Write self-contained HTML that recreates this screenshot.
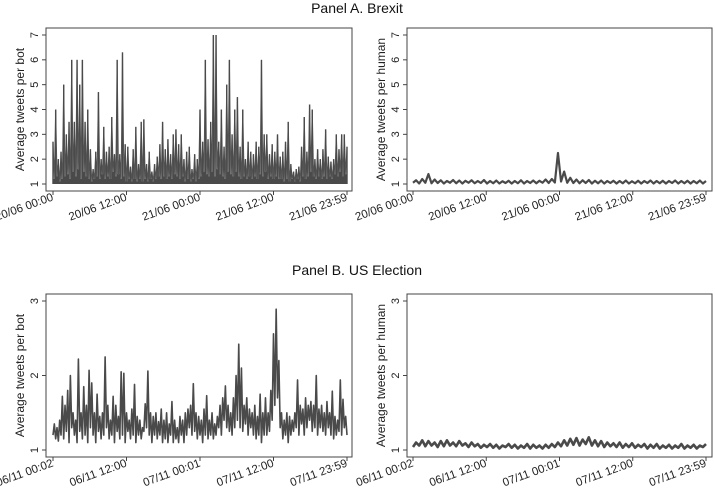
<!DOCTYPE html>
<html><head><meta charset="utf-8">
<style>
html,body{margin:0;padding:0;background:#fff;}
svg{display:block;font-family:"Liberation Sans",sans-serif;}
</style></head>
<body>
<svg id="chart" width="715" height="491" viewBox="0 0 715 491" xmlns="http://www.w3.org/2000/svg">
<text x="357" y="13" text-anchor="middle" font-size="14" fill="#111">Panel A. Brexit</text>
<text x="357" y="275" text-anchor="middle" font-size="14" fill="#111">Panel B. US Election</text>
</svg>
<script>
const brexitXTicks = ["20/06 00:00","20/06 12:00","21/06 00:00","21/06 12:00","21/06 23:59"];
const usXTicks = ["06/11 00:02","06/11 12:00","07/11 00:01","07/11 12:00","07/11 23:59"];
const brexitYTicks = [1,2,3,4,5,6,7];
const usYTicks = [1,2,3];
const brexitBot = [2.7,1.2,4.0,1.3,2.0,1.1,2.3,1.2,5.0,1.3,
3.0,1.4,3.5,1.2,6.0,1.5,3.5,1.3,6.0,1.6,
5.0,1.2,6.0,1.5,3.5,1.3,4.0,1.2,2.4,1.1,
1.6,1.2,2.3,1.3,4.7,1.2,2.0,1.4,3.3,1.2,
2.3,1.3,2.5,1.2,3.7,1.5,2.2,1.3,6.0,1.4,
2.2,1.2,6.3,1.3,2.6,1.1,2.5,1.2,1.7,1.1,
2.4,1.2,3.3,1.1,1.8,1.2,3.5,1.1,3.6,1.2,
1.8,1.1,2.3,1.2,1.5,1.1,1.8,1.2,2.1,1.3,
2.6,1.2,3.5,1.3,2.4,1.2,2.8,1.3,2.2,1.2,
3.0,1.4,3.2,1.3,2.6,1.2,3.0,1.3,2.0,1.1,
2.3,1.2,2.5,1.1,1.6,1.2,2.2,1.1,2.0,1.2,
4.0,1.3,2.7,1.5,6.0,1.4,2.8,1.3,3.5,1.5,
7.0,1.3,7.0,1.6,2.7,1.4,4.0,1.3,2.5,1.2,
5.0,1.5,6.0,1.4,3.0,1.3,4.0,1.5,4.5,1.3,
2.5,1.2,4.0,1.3,2.0,1.2,2.7,1.3,2.3,1.2,
2.2,1.3,2.7,1.2,2.5,1.4,6.0,1.3,3.0,1.5,
3.0,1.2,2.2,1.3,2.6,1.2,2.3,1.3,3.0,1.2,
2.1,1.2,2.3,1.1,2.7,1.2,3.5,1.1,1.8,1.2,
1.5,1.1,1.6,1.2,1.7,1.1,2.5,1.3,3.7,1.2,
2.3,1.3,4.2,1.5,4.0,1.3,2.0,1.2,2.4,1.3,
2.0,1.2,2.4,1.3,3.2,1.2,2.1,1.3,1.9,1.2,
2.0,1.4,3.0,1.3,2.4,1.5,3.0,1.3,3.0,1.4,2.5];
const brexitHuman = [1.05,1.15,1.02,1.2,1.05,1.4,1.03,1.18,1.04,1.15,1.02,1.12,1.05,1.16,1.03,1.14,1.02,1.13,1.05,1.15,
1.03,1.12,1.04,1.16,1.02,1.12,1.03,1.14,1.02,1.11,1.04,1.13,1.02,1.12,1.03,1.15,1.02,1.12,1.04,1.14,
1.03,1.13,1.05,1.18,1.04,1.2,1.06,2.25,1.1,1.5,1.05,1.25,1.04,1.18,1.03,1.15,1.04,1.16,1.02,1.13,
1.03,1.14,1.02,1.12,1.04,1.13,1.02,1.12,1.03,1.14,1.02,1.11,1.03,1.13,1.02,1.12,1.04,1.14,1.02,1.12,
1.03,1.13,1.02,1.12,1.04,1.14,1.02,1.12,1.03,1.13,1.02,1.12,1.03,1.14,1.02,1.12];
const usBot = [1.2,1.35,1.15,1.3,1.12,1.4,1.2,1.72,1.15,1.6,1.25,1.8,1.1,2.0,1.3,1.5,1.2,1.4,1.1,2.22,
1.25,1.5,1.15,1.85,1.2,1.6,1.1,2.07,1.3,1.9,1.2,1.5,1.1,1.75,1.25,1.45,1.15,1.5,1.2,2.25,
1.3,1.6,1.15,1.4,1.2,1.72,1.1,1.6,1.25,1.45,1.15,2.05,1.2,2.03,1.1,1.5,1.25,1.4,1.15,1.55,
1.2,1.88,1.1,1.45,1.2,1.4,1.15,1.3,1.25,1.62,1.3,2.06,1.2,1.5,1.1,1.45,1.2,1.5,1.15,1.38,
1.2,1.55,1.1,1.4,1.15,1.5,1.1,1.35,1.2,1.65,1.1,1.4,1.15,1.3,1.1,1.45,1.2,1.4,1.1,1.5,
1.2,1.55,1.3,1.6,1.2,1.89,1.25,1.5,1.15,1.45,1.2,1.4,1.1,1.55,1.2,1.73,1.15,1.4,1.2,1.5,
1.15,1.35,1.2,1.45,1.3,1.6,1.2,1.7,1.4,1.86,1.3,1.6,1.25,1.5,1.2,1.7,1.3,2.0,1.4,2.42,
1.3,2.1,1.25,1.6,1.35,1.7,1.2,1.55,1.3,1.5,1.2,1.6,1.15,1.45,1.2,1.75,1.1,1.5,1.2,1.7,
1.2,1.5,1.25,1.8,1.4,2.56,1.6,2.89,1.7,2.2,1.3,1.5,1.15,1.4,1.2,1.5,1.1,1.45,1.2,1.4,
1.25,1.5,1.3,1.94,1.2,1.6,1.35,1.55,1.2,1.7,1.3,1.6,1.4,1.65,1.25,1.6,1.3,2.0,1.2,1.55,
1.3,1.6,1.25,1.5,1.2,1.65,1.3,1.5,1.2,1.79,1.15,1.45,1.2,1.4,1.25,1.94,1.2,1.68,1.3,1.45,1.2];
const usHuman = [1.04,1.1,1.06,1.13,1.05,1.12,1.06,1.1,1.04,1.12,1.05,1.13,1.06,1.1,1.05,1.12,1.06,1.09,1.04,1.1,
1.05,1.08,1.03,1.07,1.04,1.08,1.03,1.07,1.02,1.06,1.04,1.08,1.03,1.07,1.02,1.06,1.03,1.08,1.02,1.07,
1.03,1.06,1.02,1.07,1.03,1.08,1.04,1.1,1.05,1.13,1.06,1.15,1.07,1.16,1.06,1.14,1.08,1.17,1.06,1.13,
1.05,1.12,1.04,1.1,1.05,1.09,1.04,1.1,1.03,1.08,1.04,1.09,1.03,1.07,1.04,1.08,1.02,1.07,1.03,1.08,
1.02,1.06,1.03,1.07,1.02,1.06,1.03,1.08,1.02,1.06,1.03,1.07,1.02,1.06,1.04,1.08];

const NS="http://www.w3.org/2000/svg";
const svg=document.getElementById('chart');
function mk(tag,attrs,parent){const e=document.createElementNS(NS,tag);for(const k in attrs)e.setAttribute(k,attrs[k]);(parent||svg).appendChild(e);return e;}

function panel(id,box,yMin,yMax,y0px,y1px,x0px,x1px,yTicks,xTicks,values,ylabel,mode,sw){
  const g=mk('g',{});
  
  
  const ys=v=>y0px+(v-yMin)/(yMax-yMin)*(y1px-y0px);
  const xs=i=>x0px+i/(values.length-1)*(x1px-x0px);
  const r=mk('rect',{x:box[0],y:box[1],width:box[2]-box[0],height:box[3]-box[1],fill:'#fff',stroke:'#444','stroke-width':1},g);
  
  
  let d='';
  if(mode==='spike'){
    values.forEach((v,i)=>{const x=xs(i).toFixed(2);d+='M'+x+' '+ys(1).toFixed(2)+'V'+ys(v).toFixed(2);});
    let d2='';values.forEach((v,i)=>{d2+=(i?'L':'M')+xs(i).toFixed(2)+' '+ys(v).toFixed(2);});
    const p2=mk('path',{d:d2,fill:'none',stroke:'#555','stroke-width':1},g);
    
    
  } else {
    values.forEach((v,i)=>{d+=(i?'L':'M')+xs(i).toFixed(2)+' '+ys(v).toFixed(2);});
  }
  const p=mk('path',{d:d,fill:'none',stroke:'#4a4a4a','stroke-width':sw,'stroke-linejoin':'round'},g);
  
  
  yTicks.forEach(t=>{
    const y=ys(t);
    mk('line',{x1:box[0]-4,x2:box[0],y1:y,y2:y,stroke:'#444'},g);
    const tx=mk('text',{x:0,y:0,'font-size':11,fill:'#222','text-anchor':'middle',transform:`translate(${box[0]-8},${y}) rotate(-90)`},g);
    tx.textContent=t;
    
    
  });
  xTicks.forEach((t,i)=>{
    const x=x0px+i/(xTicks.length-1)*(x1px-x0px);
    mk('line',{x1:x,x2:x,y1:box[3],y2:box[3]+4,stroke:'#444'},g);
    const tx=mk('text',{x:0,y:0,'font-size':11.5,fill:'#222','text-anchor':'end',transform:`translate(${x+1},${box[3]+9}) rotate(-20)`},g);
    tx.textContent=t;
    
    
  });
  const yl=mk('text',{x:0,y:0,'font-size':12,fill:'#222','text-anchor':'middle',transform:`translate(${box[0]-22},${(box[1]+box[3])/2}) rotate(-90)`},g);
  yl.textContent=ylabel;
  
  
}
panel('brexit-bot-panel',[46,28,352,191],1,7,184,35,53,347,brexitYTicks,brexitXTicks,brexitBot,'Average tweets per bot','spike',1.4);
panel('brexit-human-panel',[407,28,712,191],1,7,184,35,413,706,brexitYTicks,brexitXTicks,brexitHuman,'Average tweets per human','line',2.2);
panel('us-bot-panel',[46,294,352,457],1,3,450,301,53,347,usYTicks,usXTicks,usBot,'Average tweets per bot','line',1.6);
panel('us-human-panel',[407,294,712,457],1,3,450,301,413,706,usYTicks,usXTicks,usHuman,'Average tweets per human','line',2.6);
</script>
</body></html>
